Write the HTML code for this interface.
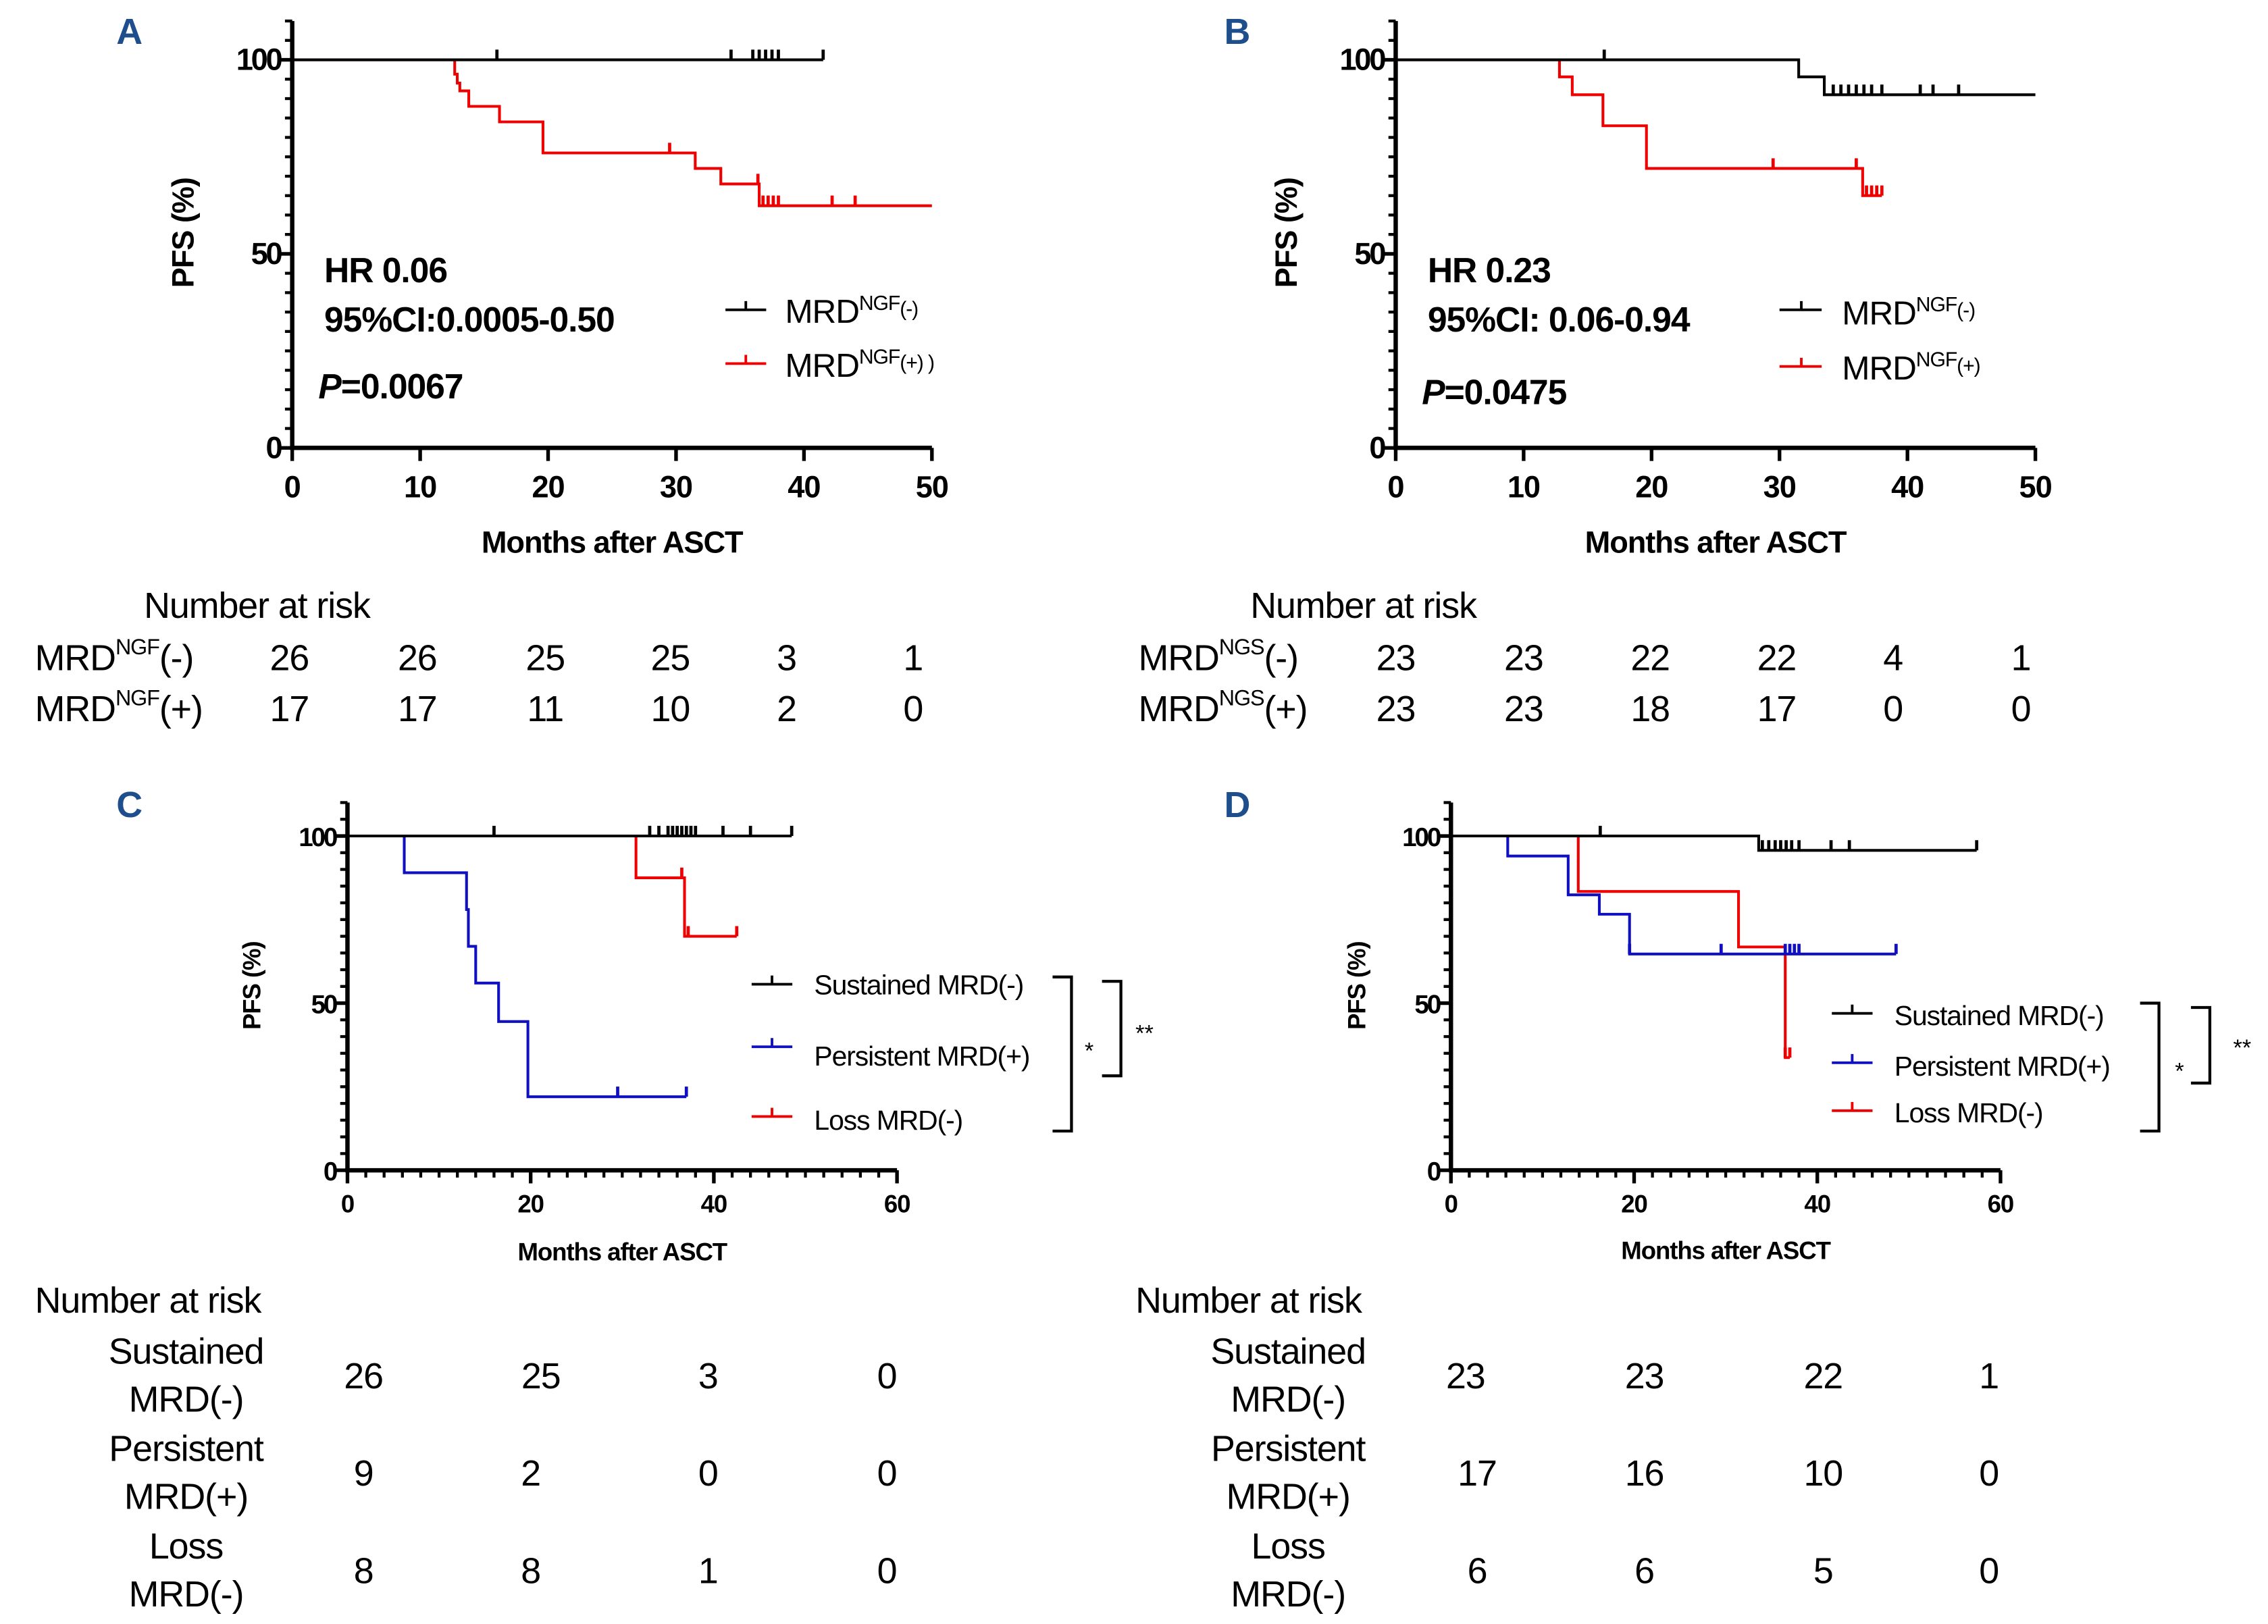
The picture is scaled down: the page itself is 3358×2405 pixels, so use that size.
<!DOCTYPE html>
<html><head><meta charset="utf-8"><style>
html,body{margin:0;padding:0;background:#fff}
svg{display:block;font-family:"Liberation Sans",sans-serif}
.tk{font-size:21px;font-weight:bold;text-anchor:end;letter-spacing:-1.5px}
.tks{font-size:18px;font-weight:bold;text-anchor:end;letter-spacing:-1.5px}
.xl{font-size:21px;font-weight:bold;text-anchor:middle;letter-spacing:-0.5px}
.xls{font-size:17px;font-weight:bold;text-anchor:middle;letter-spacing:-0.5px}
.risk{font-size:25px;letter-spacing:-0.5px}
.num{font-size:25px;text-anchor:middle;letter-spacing:-0.5px}
.lg{font-size:23px;letter-spacing:-0.5px}
.lgs{font-size:19px;letter-spacing:-0.5px}
.pl{font-size:25px;font-weight:bold;fill:#1f4e8c}
.hr{font-size:24px;font-weight:bold;letter-spacing:-0.5px}
</style></head><body>
<svg id="fig" width="3358" height="2405" viewBox="0 0 1560 1117" xmlns="http://www.w3.org/2000/svg">
<rect width="1560" height="1117" fill="#fff"/>
<text class="pl" x="80" y="30">A</text>
<text class="pl" x="842" y="30">B</text>
<text class="pl" x="80" y="562">C</text>
<text class="pl" x="842" y="562">D</text>

<text class="xl" x="421" y="380">Months after ASCT</text>
<text class="xl" x="1180" y="380">Months after ASCT</text>
<text class="xls" x="428" y="867">Months after ASCT</text>
<text class="xls" x="1187" y="866">Months after ASCT</text>
<text class="xl" transform="translate(133,160) rotate(-90)">PFS (%)</text>
<text class="xl" transform="translate(892,160) rotate(-90)">PFS (%)</text>
<text class="xls" transform="translate(179,678) rotate(-90)">PFS (%)</text>
<text class="xls" transform="translate(939,678) rotate(-90)">PFS (%)</text>

<text class="hr" x="223" y="194">HR 0.06</text>
<text class="hr" x="223" y="228">95%CI:0.0005-0.50</text>
<text class="hr" x="219" y="274"><tspan font-style="italic">P</tspan>=0.0067</text>
<text class="hr" x="982" y="194">HR 0.23</text>
<text class="hr" x="982" y="228">95%CI: 0.06-0.94</text>
<text class="hr" x="978" y="278"><tspan font-style="italic">P</tspan>=0.0475</text>

<g>
<line x1="499" y1="213" x2="527" y2="213" stroke="#000" stroke-width="1.8"/><line x1="513" y1="213" x2="513" y2="207" stroke="#000" stroke-width="1.8"/>
<text class="lg" x="540" y="222">MRD<tspan font-size="14" dy="-9">NGF</tspan><tspan font-size="14" dy="4">(-)</tspan></text>
<line x1="499" y1="250" x2="527" y2="250" stroke="#e00" stroke-width="1.8"/><line x1="513" y1="250" x2="513" y2="244" stroke="#e00" stroke-width="1.8"/>
<text class="lg" x="540" y="259">MRD<tspan font-size="14" dy="-9">NGF</tspan><tspan font-size="14" dy="4">(+) )</tspan></text>
</g>
<g>
<line x1="1224" y1="213" x2="1253" y2="213" stroke="#000" stroke-width="1.8"/><line x1="1239" y1="213" x2="1239" y2="207" stroke="#000" stroke-width="1.8"/>
<text class="lg" x="1267" y="223">MRD<tspan font-size="14" dy="-9">NGF</tspan><tspan font-size="14" dy="4">(-)</tspan></text>
<line x1="1224" y1="252" x2="1253" y2="252" stroke="#e00" stroke-width="1.8"/><line x1="1239" y1="252" x2="1239" y2="246" stroke="#e00" stroke-width="1.8"/>
<text class="lg" x="1267" y="261">MRD<tspan font-size="14" dy="-9">NGF</tspan><tspan font-size="14" dy="4">(+)</tspan></text>
</g>
<g>
<line x1="517" y1="677" x2="545" y2="677" stroke="#000" stroke-width="1.8"/><line x1="531" y1="677" x2="531" y2="671" stroke="#000" stroke-width="1.8"/>
<text class="lgs" x="560" y="684">Sustained MRD(-)</text>
<line x1="517" y1="720" x2="545" y2="720" stroke="#1010c0" stroke-width="1.8"/><line x1="531" y1="720" x2="531" y2="714" stroke="#1010c0" stroke-width="1.8"/>
<text class="lgs" x="560" y="733">Persistent MRD(+)</text>
<line x1="517" y1="768" x2="545" y2="768" stroke="#e00" stroke-width="1.8"/><line x1="531" y1="768" x2="531" y2="762" stroke="#e00" stroke-width="1.8"/>
<text class="lgs" x="560" y="777">Loss MRD(-)</text>
<path d="M724,672 H737 V778 H724" fill="none" stroke="#000" stroke-width="2"/>
<text x="746" y="728" font-size="16">*</text>
<path d="M758,675 H771 V740 H758" fill="none" stroke="#000" stroke-width="2"/>
<text x="781" y="716" font-size="16">**</text>
</g>
<g>
<line x1="1260" y1="697" x2="1288" y2="697" stroke="#000" stroke-width="1.8"/><line x1="1274" y1="697" x2="1274" y2="691" stroke="#000" stroke-width="1.8"/>
<text class="lgs" x="1303" y="705">Sustained MRD(-)</text>
<line x1="1260" y1="731" x2="1288" y2="731" stroke="#1010c0" stroke-width="1.8"/><line x1="1274" y1="731" x2="1274" y2="725" stroke="#1010c0" stroke-width="1.8"/>
<text class="lgs" x="1303" y="740">Persistent MRD(+)</text>
<line x1="1260" y1="764" x2="1288" y2="764" stroke="#e00" stroke-width="1.8"/><line x1="1274" y1="764" x2="1274" y2="758" stroke="#e00" stroke-width="1.8"/>
<text class="lgs" x="1303" y="772">Loss MRD(-)</text>
<path d="M1472,690 H1485 V778 H1472" fill="none" stroke="#000" stroke-width="2"/>
<text x="1496" y="742" font-size="16">*</text>
<path d="M1507,693 H1520 V745 H1507" fill="none" stroke="#000" stroke-width="2"/>
<text x="1536" y="726" font-size="16">**</text>
</g>

<g>
<text class="risk" x="99" y="425">Number at risk</text>
<text class="risk" x="24" y="461">MRD<tspan font-size="15" dy="-11">NGF</tspan><tspan dy="11">(-)</tspan></text>
<text class="risk" x="24" y="496">MRD<tspan font-size="15" dy="-11">NGF</tspan><tspan dy="11">(+)</tspan></text>
<text class="num" x="199" y="461">26</text><text class="num" x="287" y="461">26</text><text class="num" x="375" y="461">25</text><text class="num" x="461" y="461">25</text><text class="num" x="541" y="461">3</text><text class="num" x="628" y="461">1</text>
<text class="num" x="199" y="496">17</text><text class="num" x="287" y="496">17</text><text class="num" x="375" y="496">11</text><text class="num" x="461" y="496">10</text><text class="num" x="541" y="496">2</text><text class="num" x="628" y="496">0</text>
</g>
<g>
<text class="risk" x="860" y="425">Number at risk</text>
<text class="risk" x="783" y="461">MRD<tspan font-size="15" dy="-11">NGS</tspan><tspan dy="11">(-)</tspan></text>
<text class="risk" x="783" y="496">MRD<tspan font-size="15" dy="-11">NGS</tspan><tspan dy="11">(+)</tspan></text>
<text class="num" x="960" y="461">23</text><text class="num" x="1048" y="461">23</text><text class="num" x="1135" y="461">22</text><text class="num" x="1222" y="461">22</text><text class="num" x="1302" y="461">4</text><text class="num" x="1390" y="461">1</text>
<text class="num" x="960" y="496">23</text><text class="num" x="1048" y="496">23</text><text class="num" x="1135" y="496">18</text><text class="num" x="1222" y="496">17</text><text class="num" x="1302" y="496">0</text><text class="num" x="1390" y="496">0</text>
</g>
<g>
<text class="risk" x="24" y="903">Number at risk</text>
<text class="num" x="128" y="938">Sustained</text><text class="num" x="128" y="971">MRD(-)</text>
<text class="num" x="128" y="1005">Persistent</text><text class="num" x="128" y="1038">MRD(+)</text>
<text class="num" x="128" y="1072">Loss</text><text class="num" x="128" y="1105">MRD(-)</text>
<text class="num" x="250" y="955">26</text><text class="num" x="372" y="955">25</text><text class="num" x="487" y="955">3</text><text class="num" x="610" y="955">0</text>
<text class="num" x="250" y="1022">9</text><text class="num" x="365" y="1022">2</text><text class="num" x="487" y="1022">0</text><text class="num" x="610" y="1022">0</text>
<text class="num" x="250" y="1089">8</text><text class="num" x="365" y="1089">8</text><text class="num" x="487" y="1089">1</text><text class="num" x="610" y="1089">0</text>
</g>
<g>
<text class="risk" x="781" y="903">Number at risk</text>
<text class="num" x="886" y="938">Sustained</text><text class="num" x="886" y="971">MRD(-)</text>
<text class="num" x="886" y="1005">Persistent</text><text class="num" x="886" y="1038">MRD(+)</text>
<text class="num" x="886" y="1072">Loss</text><text class="num" x="886" y="1105">MRD(-)</text>
<text class="num" x="1008" y="955">23</text><text class="num" x="1131" y="955">23</text><text class="num" x="1254" y="955">22</text><text class="num" x="1368" y="955">1</text>
<text class="num" x="1016" y="1022">17</text><text class="num" x="1131" y="1022">16</text><text class="num" x="1254" y="1022">10</text><text class="num" x="1368" y="1022">0</text>
<text class="num" x="1016" y="1089">6</text><text class="num" x="1131" y="1089">6</text><text class="num" x="1254" y="1089">5</text><text class="num" x="1368" y="1089">0</text>
</g>
<g id="plots"></g>
</svg>
<script>
// ---- data (months, PFS %) ----
const aNegDropT=[], aNegDropS=[], aNegEnd=41.5, aNegCens=[16,34.3,36,36.5,37,37.5,38,41.5];
const aPosDropT=[12.7,12.9,13.1,13.8,16.2,19.6,31.5,33.5,36.5], aPosDropS=[96.3,94,92,88,84,76,72,68,62.4], aPosEnd=50, aPosCens=[29.5,36.4,36.8,37.2,37.6,38,42.2,44];
const bNegDropT=[31.5,33.5], bNegDropS=[95.6,91], bNegEnd=50, bNegCens=[16.3,34.2,34.8,35.4,36,36.6,37.2,38,41,42,44];
const bPosDropT=[12.8,13.8,16.2,19.6,36.5], bPosDropS=[95.6,91,83,72,65], bPosEnd=38, bPosCens=[29.5,36,36.8,37.2,37.6,38];
const cSusDropT=[], cSusDropS=[], cSusEnd=48.5, cSusCens=[16,33,34,35,35.5,36,36.5,37,37.5,38,41,44,48.5];
const cPerDropT=[6.2,13,13.2,14,16.5,19.7], cPerDropS=[89,78,67,56,44.5,22], cPerEnd=37, cPerCens=[29.5,37];
const cLosDropT=[31.5,36.8], cLosDropS=[87.5,70], cLosEnd=42.5, cLosCens=[36.5,37.2,42.5];
const dSusDropT=[33.6], dSusDropS=[95.7], dSusEnd=57.4, dSusCens=[16.3,34,34.7,35.4,36,36.6,37.2,38,41.5,43.5,57.4];
const dPerDropT=[6.2,12.8,16.2,19.5], dPerDropS=[94,82.4,76.6,64.7], dPerEnd=48.6, dPerCens=[19.5,29.5,36.5,37,37.5,38,48.6];
const dLosDropT=[13.9,31.4,36.5], dLosDropS=[83.4,66.8,33.7], dLosEnd=37, dLosCens=[36.5,37];
const xTicksAB=[0,10,20,30,40,50], xTicksCD=[0,20,40,60], yTicks=[0,50,100];

const NS='http://www.w3.org/2000/svg';
const root=document.getElementById('plots');
function el(tag,attrs,parent){const e=document.createElementNS(NS,tag);for(const k in attrs)e.setAttribute(k,attrs[k]);(parent||root).appendChild(e);return e;}

function panel(id,x0,x1,xmax,y100,y0,ticksX,minorX,small,series){
  const g=el('g',{});
  
  
  const sx=v=>x0+(x1-x0)*v/xmax, sy=v=>y0+(y100-y0)*v/100;
  series.forEach(s=>{
    let d='M'+sx(0)+','+sy(100);
    s.t.forEach((t,i)=>{d+=' H'+sx(t)+' V'+sy(s.s[i]);});
    d+=' H'+sx(s.end);
    const p=el('path',{d:d,fill:'none',stroke:s.c,'stroke-width':1.9},g);
    
    
    s.cens.forEach(ct=>{let lv=100;s.t.forEach((t,i)=>{if(t<=ct)lv=s.s[i];});
      const m=el('line',{x1:sx(ct),y1:sy(lv),x2:sx(ct),y2:sy(lv)-7,stroke:s.c,'stroke-width':2.2},g);
      
      });
  });
  const ya=el('line',{x1:x0,y1:sy(110),x2:x0,y2:y0,stroke:'#000','stroke-width':3},g);
  
  
  for(let v=0;v<=110;v+=5){const major=v%50===0;
    const t=el('line',{x1:x0-(major?8:5),y1:sy(v),x2:x0,y2:sy(v),stroke:'#000','stroke-width':major?2.5:2},g);
    
    }
  yTicks.forEach(v=>{const t=el('text',{x:x0-8,y:sy(v)+7,class:small?'tks':'tk'},g);t.textContent=v;
    
    });
  const xa=el('line',{x1:x0-1.5,y1:y0,x2:x1,y2:y0,stroke:'#000','stroke-width':3},g);
  
  
  if(minorX){for(let v=0;v<=xmax;v+=minorX){const t=el('line',{x1:sx(v),y1:y0,x2:sx(v),y2:y0+5,stroke:'#000','stroke-width':2},g);
    
    }}
  ticksX.forEach(v=>{const t=el('line',{x1:sx(v),y1:y0,x2:sx(v),y2:y0+9,stroke:'#000','stroke-width':2.5},g);
    
    
    const l=el('text',{x:sx(v),y:y0+(small?29:34),class:small?'xls':'xl'},g);l.textContent=v;
    
    });
}
const K='#000',R='#e00',B='#1010c0';
panel('a',201,641,50,41,308,xTicksAB,0,false,[
 {name:'curve-mrd-pos-a',c:R,t:aPosDropT,s:aPosDropS,end:aPosEnd,cens:aPosCens},
 {name:'curve-mrd-neg-a',c:K,t:aNegDropT,s:aNegDropS,end:aNegEnd,cens:aNegCens}]);
panel('b',960,1400,50,41,308,xTicksAB,0,false,[
 {name:'curve-mrd-pos-b',c:R,t:bPosDropT,s:bPosDropS,end:bPosEnd,cens:bPosCens},
 {name:'curve-mrd-neg-b',c:K,t:bNegDropT,s:bNegDropS,end:bNegEnd,cens:bNegCens}]);
panel('c',239,617,60,575,805,xTicksCD,2,true,[
 {name:'curve-loss-c',c:R,t:cLosDropT,s:cLosDropS,end:cLosEnd,cens:cLosCens},
 {name:'curve-persistent-c',c:B,t:cPerDropT,s:cPerDropS,end:cPerEnd,cens:cPerCens},
 {name:'curve-sustained-c',c:K,t:cSusDropT,s:cSusDropS,end:cSusEnd,cens:cSusCens}]);
panel('d',998,1376,60,575,805,xTicksCD,2,true,[
 {name:'curve-loss-d',c:R,t:dLosDropT,s:dLosDropS,end:dLosEnd,cens:dLosCens},
 {name:'curve-persistent-d',c:B,t:dPerDropT,s:dPerDropS,end:dPerEnd,cens:dPerCens},
 {name:'curve-sustained-d',c:K,t:dSusDropT,s:dSusDropS,end:dSusEnd,cens:dSusCens}]);
</script>
</body></html>
